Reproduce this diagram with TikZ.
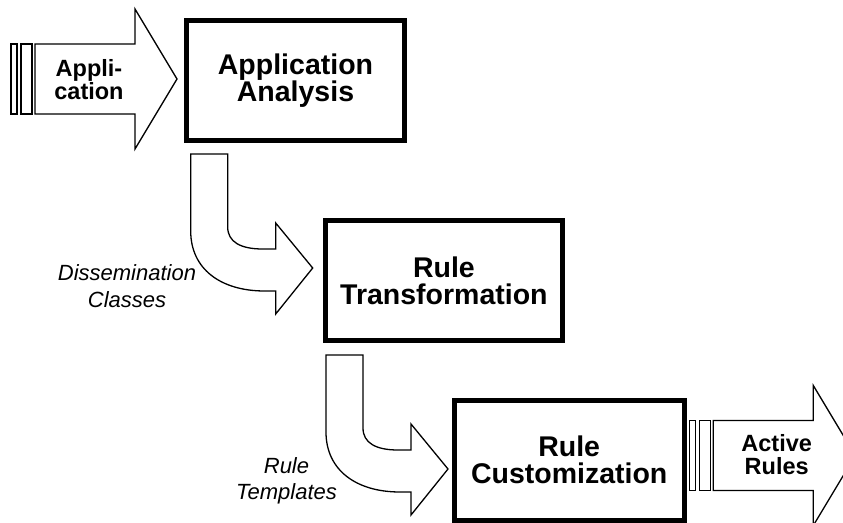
\documentclass[tikz,border=0pt]{standalone}
\usepackage{fontspec}
\setmainfont{Liberation Sans}
\begin{document}
\begin{tikzpicture}[x=1pt,y=-1pt,
	kasten/.style={draw,line width=5pt,minimum height=120pt,align=center,font=\bfseries\fontsize{28.5}{27}\selectfont},
	pfeiltext/.style={align=center,font=\bfseries\fontsize{23.5}{23}\selectfont},
	notiz/.style={align=center,font=\itshape\fontsize{22}{26.5}\selectfont},
	umriss/.style={draw,line width=1.3pt,fill=white}]
\def\gerade#1{
	\begin{scope}[shift={#1}]
	\draw[umriss] (0,-35) rectangle (6,35);
	\draw[umriss] (10,-35) rectangle (21,35);
	\draw[umriss] (24,-35) -- (124,-35) -- (124,-70) -- (166,0) -- (124,70) -- (124,35) -- (24,35) -- cycle;
	\end{scope}
}
\def\bogen#1{
	\draw[umriss,shift={#1}] (0,0) -- (37,0) -- (37,73) .. controls (37,88) and (50,95) .. (72,95) -- (85,95) -- (85,69) -- (122,114) -- (85,160) -- (85,137) -- (74,137) .. controls (30,137) and (0,115) .. (0,77) -- cycle;
}
\useasboundingbox (0,0) rectangle (843,522);
\coordinate (p0) at (11,79);
\coordinate (p1) at (190.7,154);
\coordinate (p2) at (326,355);
\coordinate (p3) at (689.3,455.5);
\gerade{(p0)}
\bogen{(p1)}
\bogen{(p2)}
\gerade{(p3)}
\node[kasten,minimum width=218pt] (analyse) at (295.5,80.5) {Application\\Analysis};
\node[kasten,minimum width=237pt] (trafo) at (443.9,280.5) {Rule\\Transformation};
\node[kasten,minimum width=230pt] (anpassung) at (569.2,460) {Rule\\Customization};
\node[pfeiltext] (eingabe) at (89,80) {Appli-\\cation};
\node[pfeiltext] (ausgabe) at (776.7,455) {Active\\Rules};
\node[notiz] (klassen) at (127,286) {Dissemination\\Classes};
\node[notiz] (vorlagen) at (286.5,481) {Rule\\Templates};
\end{tikzpicture}
\end{document}
